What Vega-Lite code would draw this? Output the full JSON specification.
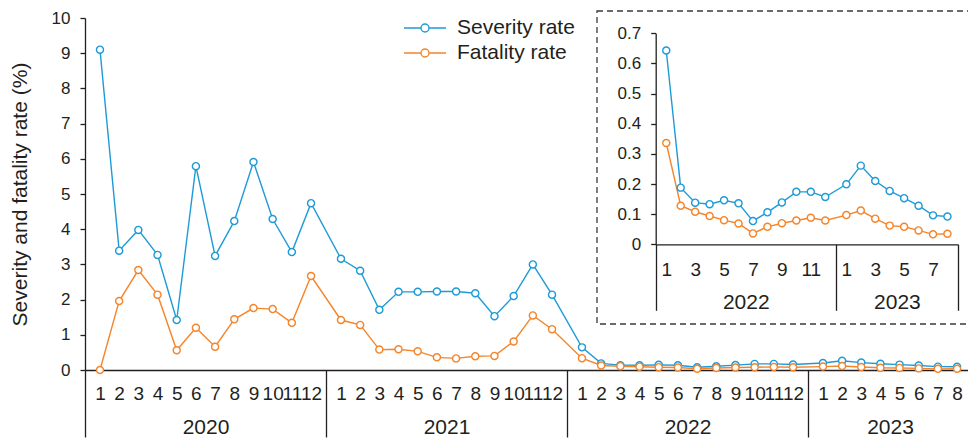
{
  "$schema": "https://vega.github.io/schema/vega-lite/v6.json",
  "autosize": "none",
  "width": 883,
  "height": 352,
  "padding": {"left": 85, "top": 18, "right": 0, "bottom": 69},
  "background": "white",
  "config": {
    "font": "Liberation Sans",
    "view": {"stroke": null},
    "axis": {
      "grid": false,
      "labelFont": "Liberation Sans",
      "titleFont": "Liberation Sans",
      "labelColor": "#231f20",
      "titleColor": "#231f20",
      "domainColor": "#231f20",
      "tickColor": "#231f20",
      "domainWidth": 1.3,
      "tickWidth": 1.3,
      "titleFontWeight": "normal",
      "labelOverlap": false,
      "labelFlush": false,
      "labelBound": false
    },
    "legend": {
      "labelFont": "Liberation Sans"
    }
  },
  "datasets": {
    "rates": [
      {"year": 2020, "month": 1, "ym": 202001, "Severity rate": 9.10, "Fatality rate": 0.00},
      {"year": 2020, "month": 2, "ym": 202002, "Severity rate": 3.39, "Fatality rate": 1.96},
      {"year": 2020, "month": 3, "ym": 202003, "Severity rate": 3.98, "Fatality rate": 2.84},
      {"year": 2020, "month": 4, "ym": 202004, "Severity rate": 3.27, "Fatality rate": 2.14},
      {"year": 2020, "month": 5, "ym": 202005, "Severity rate": 1.42, "Fatality rate": 0.56},
      {"year": 2020, "month": 6, "ym": 202006, "Severity rate": 5.79, "Fatality rate": 1.20},
      {"year": 2020, "month": 7, "ym": 202007, "Severity rate": 3.24, "Fatality rate": 0.66},
      {"year": 2020, "month": 8, "ym": 202008, "Severity rate": 4.23, "Fatality rate": 1.44},
      {"year": 2020, "month": 9, "ym": 202009, "Severity rate": 5.91, "Fatality rate": 1.76},
      {"year": 2020, "month": 10, "ym": 202010, "Severity rate": 4.29, "Fatality rate": 1.73},
      {"year": 2020, "month": 11, "ym": 202011, "Severity rate": 3.35, "Fatality rate": 1.34},
      {"year": 2020, "month": 12, "ym": 202012, "Severity rate": 4.74, "Fatality rate": 2.67},
      {"year": 2021, "month": 1, "ym": 202101, "Severity rate": 3.16, "Fatality rate": 1.42},
      {"year": 2021, "month": 2, "ym": 202102, "Severity rate": 2.82, "Fatality rate": 1.28},
      {"year": 2021, "month": 3, "ym": 202103, "Severity rate": 1.71, "Fatality rate": 0.58},
      {"year": 2021, "month": 4, "ym": 202104, "Severity rate": 2.22, "Fatality rate": 0.59},
      {"year": 2021, "month": 5, "ym": 202105, "Severity rate": 2.22, "Fatality rate": 0.53},
      {"year": 2021, "month": 6, "ym": 202106, "Severity rate": 2.23, "Fatality rate": 0.36},
      {"year": 2021, "month": 7, "ym": 202107, "Severity rate": 2.23, "Fatality rate": 0.33},
      {"year": 2021, "month": 8, "ym": 202108, "Severity rate": 2.18, "Fatality rate": 0.39},
      {"year": 2021, "month": 9, "ym": 202109, "Severity rate": 1.53, "Fatality rate": 0.40},
      {"year": 2021, "month": 10, "ym": 202110, "Severity rate": 2.10, "Fatality rate": 0.81},
      {"year": 2021, "month": 11, "ym": 202111, "Severity rate": 3.00, "Fatality rate": 1.55},
      {"year": 2021, "month": 12, "ym": 202112, "Severity rate": 2.14, "Fatality rate": 1.16},
      {"year": 2022, "month": 1, "ym": 202201, "Severity rate": 0.643, "Fatality rate": 0.336},
      {"year": 2022, "month": 2, "ym": 202202, "Severity rate": 0.188, "Fatality rate": 0.128},
      {"year": 2022, "month": 3, "ym": 202203, "Severity rate": 0.138, "Fatality rate": 0.108},
      {"year": 2022, "month": 4, "ym": 202204, "Severity rate": 0.133, "Fatality rate": 0.094},
      {"year": 2022, "month": 5, "ym": 202205, "Severity rate": 0.146, "Fatality rate": 0.080},
      {"year": 2022, "month": 6, "ym": 202206, "Severity rate": 0.136, "Fatality rate": 0.069},
      {"year": 2022, "month": 7, "ym": 202207, "Severity rate": 0.077, "Fatality rate": 0.036},
      {"year": 2022, "month": 8, "ym": 202208, "Severity rate": 0.106, "Fatality rate": 0.058},
      {"year": 2022, "month": 9, "ym": 202209, "Severity rate": 0.139, "Fatality rate": 0.070},
      {"year": 2022, "month": 10, "ym": 202210, "Severity rate": 0.174, "Fatality rate": 0.079},
      {"year": 2022, "month": 11, "ym": 202211, "Severity rate": 0.174, "Fatality rate": 0.088},
      {"year": 2022, "month": 12, "ym": 202212, "Severity rate": 0.157, "Fatality rate": 0.079},
      {"year": 2023, "month": 1, "ym": 202301, "Severity rate": 0.199, "Fatality rate": 0.097},
      {"year": 2023, "month": 2, "ym": 202302, "Severity rate": 0.261, "Fatality rate": 0.112},
      {"year": 2023, "month": 3, "ym": 202303, "Severity rate": 0.210, "Fatality rate": 0.085},
      {"year": 2023, "month": 4, "ym": 202304, "Severity rate": 0.177, "Fatality rate": 0.062},
      {"year": 2023, "month": 5, "ym": 202305, "Severity rate": 0.153, "Fatality rate": 0.058},
      {"year": 2023, "month": 6, "ym": 202306, "Severity rate": 0.128, "Fatality rate": 0.046},
      {"year": 2023, "month": 7, "ym": 202307, "Severity rate": 0.096, "Fatality rate": 0.033},
      {"year": 2023, "month": 8, "ym": 202308, "Severity rate": 0.092, "Fatality rate": 0.035}
    ]
  },
  "layer": [
    {
      "data": {"name": "rates"},
      "transform": [{"fold": ["Severity rate", "Fatality rate"], "as": ["series", "value"]}],
      "encoding": {
        "x": {
          "field": "ym", "type": "quantitative",
          "scale": {
            "domain": [202000.22, 202012.78, 202100.22, 202112.78, 202200.22, 202212.78, 202300.22, 202308.78],
            "range": [0, 241, 241, 482, 482, 723, 723, 887],
            "nice": false, "zero": false
          },
          "axis": {
            "orient": "bottom",
            "values": [202001,202002,202003,202004,202005,202006,202007,202008,202009,202010,202011,202012,
                       202101,202102,202103,202104,202105,202106,202107,202108,202109,202110,202111,202112,
                       202201,202202,202203,202204,202205,202206,202207,202208,202209,202210,202211,202212,
                       202301,202302,202303,202304,202305,202306,202307,202308],
            "labelExpr": "'' + (datum.value % 100)",
            "ticks": false,
            "title": null,
            "labelFontSize": 19,
            "labelPadding": 14,
            "zindex": 0
          }
        },
        "y": {
          "field": "value", "type": "quantitative",
          "scale": {"domain": [0, 10], "nice": false},
          "axis": {
            "orient": "left",
            "values": [0,1,2,3,4,5,6,7,8,9,10],
            "tickSize": 5,
            "labelFontSize": 17,
            "labelPadding": 10,
            "title": "Severity and fatality rate (%)",
            "titleFontSize": 21,
            "titlePadding": 21,
            "zindex": 0
          }
        },
        "color": {
          "field": "series", "type": "nominal",
          "scale": {"domain": ["Severity rate", "Fatality rate"], "range": ["#1e9bd7", "#f5852a"]},
          "legend": {
            "orient": "none",
            "legendX": 328.5,
            "legendY": -1.5,
            "title": null,
            "padding": 0,
            "symbolType": "M-2,0H-0.38M0.38,0H2M0.38,0A0.38,0.38 0 1 1 -0.38,0A0.38,0.38 0 1 1 0.38,0Z",
            "symbolSize": 441,
            "symbolStrokeWidth": 1.4,
            "symbolFillColor": "white",
            "labelFontSize": 21,
            "labelColor": "#231f20",
            "labelOffset": 20.5,
            "rowPadding": 3
          }
        }
      },
      "layer": [
        {"mark": {"type": "line", "strokeWidth": 1.4}},
        {"mark": {"type": "point", "filled": false, "fill": "white", "fillOpacity": 1, "opacity": 1, "size": 50, "strokeWidth": 1.4}}
      ]
    },
    {
      "data": {"name": "rates"},
      "mark": {"type": "rule", "opacity": 0},
      "encoding": {
        "x": {
          "field": "year", "type": "quantitative",
          "scale": {"domain": [2020, 2021, 2022, 2023, 2024], "range": [0, 241, 482, 723, 887], "nice": false, "zero": false},
          "axis": {
            "orient": "bottom",
            "values": [2020, 2020.5, 2021, 2021.5, 2022, 2022.5, 2023, 2023.5],
            "labelExpr": "datum.value % 1 === 0 ? '' : '' + floor(datum.value)",
            "domain": false,
            "ticks": true,
            "tickSize": 67,
            "tickColor": {"condition": {"test": "datum.value % 1 === 0", "value": "#231f20"}, "value": "rgba(0,0,0,0)"},
            "labelFontSize": 21,
            "labelPadding": -21,
            "title": null,
            "zindex": 0
          }
        }
      }
    },
    {
      "data": {"values": [{"box": "inset"}]},
      "mark": {"type": "rect", "fill": "white", "stroke": "#3a3a3a", "strokeWidth": 1.3, "strokeDash": [6, 4]},
      "encoding": {
        "x": {"datum": 0, "type": "quantitative", "scale": {"domain": [0, 1], "range": [512, 905], "nice": false}, "axis": null},
        "x2": {"datum": 1},
        "y": {"datum": 0, "type": "quantitative", "scale": {"domain": [0, 1], "range": [-7, 306], "nice": false}, "axis": null},
        "y2": {"datum": 1}
      }
    },
    {
      "data": {"name": "rates"},
      "transform": [
        {"filter": "datum.year >= 2022"},
        {"fold": ["Severity rate", "Fatality rate"], "as": ["series", "value"]}
      ],
      "encoding": {
        "x": {
          "field": "ym", "type": "quantitative",
          "scale": {
            "domain": [202200.27, 202212.73, 202300.27, 202308.73],
            "range": [570.7, 750.8, 750.8, 873],
            "nice": false, "zero": false
          },
          "axis": {
            "orient": "bottom",
            "offset": -125.7,
            "values": [202201, 202203, 202205, 202207, 202209, 202211, 202301, 202303, 202305, 202307],
            "labelExpr": "'' + (datum.value % 100)",
            "ticks": false,
            "title": null,
            "labelFontSize": 19,
            "labelPadding": 16,
            "zindex": 1
          }
        },
        "y": {
          "field": "value", "type": "quantitative",
          "scale": {"domain": [0, 0.7], "range": [226.3, 15.3], "nice": false, "zero": false},
          "axis": {
            "orient": "left",
            "offset": -570.7,
            "values": [0, 0.1, 0.2, 0.3, 0.4, 0.5, 0.6, 0.7],
            "labelExpr": "datum.value === 0 ? '0' : format(datum.value, '.1f')",
            "tickSize": 5,
            "labelFontSize": 17,
            "labelPadding": 10,
            "title": null,
            "zindex": 1
          }
        },
        "color": {"field": "series", "type": "nominal"}
      },
      "layer": [
        {"mark": {"type": "line", "strokeWidth": 1.4}},
        {"mark": {"type": "point", "filled": false, "fill": "white", "fillOpacity": 1, "opacity": 1, "size": 50, "strokeWidth": 1.4}}
      ]
    },
    {
      "data": {"name": "rates"},
      "transform": [{"filter": "datum.year >= 2022"}],
      "mark": {"type": "rule", "opacity": 0},
      "encoding": {
        "x": {
          "field": "year", "type": "quantitative",
          "scale": {"domain": [2022, 2023, 2024], "range": [570.7, 750.8, 873], "nice": false, "zero": false},
          "axis": {
            "orient": "bottom",
            "offset": -125.7,
            "values": [2022, 2022.5, 2023, 2023.5, 2024],
            "labelExpr": "datum.value % 1 === 0 ? '' : '' + floor(datum.value)",
            "domain": false,
            "ticks": true,
            "tickSize": 66,
            "tickColor": {"condition": {"test": "datum.value % 1 === 0", "value": "#231f20"}, "value": "rgba(0,0,0,0)"},
            "labelFontSize": 21,
            "labelPadding": -18.5,
            "title": null,
            "zindex": 1
          }
        }
      }
    }
  ],
  "resolve": {
    "scale": {"x": "independent", "y": "independent"},
    "axis": {"x": "independent", "y": "independent"}
  }
}
